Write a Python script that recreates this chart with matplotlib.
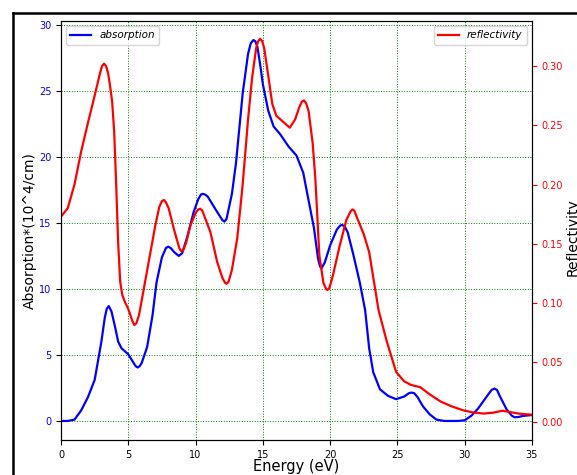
import matplotlib
matplotlib.use("Agg")
import matplotlib.pyplot as plt
from matplotlib.lines import Line2D

# energia (eV) y absorcion (10^4/cm)
energy_abs = [0, 0.5, 1.0, 1.5, 2.0, 2.5, 3.0, 3.25, 3.4, 3.55, 3.75, 4.0, 4.25, 4.5, 5.0,
              5.3, 5.55, 5.7, 5.85, 6.0, 6.4, 6.8, 7.1, 7.5, 7.8, 7.97, 8.15, 8.4, 8.75,
              9.0, 9.4, 9.85, 10.2, 10.4, 10.55, 10.7, 10.9, 11.5, 12.0, 12.15, 12.3, 12.7,
              13.0, 13.5, 13.9, 14.1, 14.3, 14.45, 14.6, 14.8, 15.0, 15.4, 15.8, 16.3,
              16.9, 17.5, 18.0, 18.4, 18.8, 19.1, 19.25, 19.35, 19.6, 20.0, 20.5, 20.75,
              20.9, 21.1, 21.3, 21.7, 22.2, 22.6, 22.9, 23.2, 23.7, 24.3, 24.9, 25.5,
              25.85, 26.05, 26.25, 26.5, 26.9, 27.4, 27.9, 28.5, 29.5, 30.0, 30.5, 31.0,
              31.6, 32.0, 32.2, 32.4, 32.6, 33.1, 33.5, 33.7, 34.0, 34.3, 35.0]
absorption = [0, 0, 0.1, 0.8, 1.8, 3.1, 6.0, 7.8, 8.5, 8.7, 8.3, 7.2, 6.0, 5.5, 5.05,
              4.55, 4.15, 4.05, 4.15, 4.4, 5.6, 8.0, 10.5, 12.4, 13.1, 13.2, 13.1, 12.8, 12.5,
              12.7, 14.0, 15.8, 16.8, 17.15, 17.2, 17.15, 17.0, 16.0, 15.2, 15.1, 15.3, 17.2,
              19.5, 24.8, 27.8, 28.6, 28.85, 28.75, 28.3, 27.0, 25.5, 23.5, 22.3, 21.7,
              20.8, 20.1, 18.8, 16.7, 14.6, 12.3, 11.7, 11.55, 12.0, 13.3, 14.5, 14.8,
              14.85, 14.7, 14.3, 12.7, 10.5, 8.4, 5.5, 3.7, 2.4, 1.9, 1.65, 1.85,
              2.1, 2.15, 2.1, 1.8, 1.1, 0.5, 0.1, 0.0, 0.0, 0.05, 0.4, 0.95,
              1.8, 2.35, 2.45, 2.35, 1.9, 0.9, 0.4, 0.28, 0.3, 0.38, 0.45]

# energia (eV) y reflectividad
energy_ref = [0, 0.5, 1.0, 1.5, 2.0, 2.5, 2.9, 3.05, 3.2, 3.35, 3.5, 3.65, 3.8, 3.95,
              4.1, 4.25, 4.4, 4.55, 4.75, 5.0, 5.3, 5.45, 5.6, 5.8, 6.2, 6.6, 7.0, 7.3,
              7.5, 7.65, 7.8, 8.0, 8.4, 8.8, 8.95, 9.1, 9.3, 9.6, 10.0, 10.2, 10.35, 10.5,
              10.7, 11.1, 11.6, 12.0, 12.2, 12.3, 12.45, 12.7, 13.1, 13.5, 13.9, 14.2,
              14.5, 14.65, 14.8, 14.95, 15.1, 15.4, 15.7, 16.0, 16.5, 17.0, 17.4, 17.7,
              17.9, 18.05, 18.2, 18.4, 18.7, 18.9, 19.2, 19.5, 19.7, 19.8, 19.95, 20.2,
              20.7, 21.2, 21.5, 21.65, 21.8, 22.0, 22.5, 22.9, 23.3, 23.6, 24.2, 24.9,
              25.5, 26.0, 26.7, 27.4, 28.2, 29.0, 29.9, 30.6, 31.4, 32.1, 32.8, 33.4,
              34.0, 35.0]
reflectivity = [0.173, 0.180, 0.200, 0.228, 0.252, 0.275, 0.294, 0.300, 0.302, 0.300,
                0.294, 0.283, 0.270, 0.245, 0.200, 0.150, 0.118, 0.107, 0.101, 0.095,
                0.085, 0.0815, 0.083, 0.090, 0.115, 0.140, 0.165, 0.181, 0.186, 0.187,
                0.185, 0.180, 0.162, 0.146, 0.1436, 0.145, 0.151, 0.165, 0.176, 0.179,
                0.1796, 0.178, 0.172, 0.160, 0.135, 0.121, 0.117, 0.1163, 0.118, 0.128,
                0.155, 0.200, 0.255, 0.290, 0.315, 0.321, 0.323, 0.321, 0.315, 0.292,
                0.268, 0.258, 0.253, 0.248, 0.255, 0.265, 0.270, 0.271, 0.269, 0.262,
                0.235, 0.205, 0.140, 0.117, 0.112, 0.111, 0.113, 0.123, 0.148, 0.170,
                0.177, 0.179, 0.178, 0.172, 0.158, 0.143, 0.115, 0.094, 0.068, 0.042,
                0.034, 0.031, 0.029, 0.023, 0.017, 0.013, 0.0095, 0.0078, 0.0068,
                0.0075, 0.0092, 0.0080, 0.0068, 0.0058]

fig = plt.figure(figsize=(5.77, 4.75), dpi=100)
ax1 = fig.add_axes([61/577, 35/475, 471/577, 419/475])

# marco negro de la captura original
fig.add_artist(Line2D([13/577, 13/577], [0, 1 - 13/475], color='black', lw=1.8,
                      transform=fig.transFigure))
fig.add_artist(Line2D([13/577, 1], [1 - 13/475, 1 - 13/475], color='black', lw=1.8,
                      transform=fig.transFigure))

ax1.plot(energy_abs, absorption, color='blue', lw=1.6, label='absorption')
ax1.set_xlim(0, 35)
ax1.set_xlabel('Energy (eV)', fontsize=10.5)
ax1.xaxis.set_label_coords(0.5, -0.046)
ax1.set_ylabel('Absorption*(10^4/cm)', fontsize=10)
ax1.yaxis.set_label_coords(-0.052, 0.5)
ax1.tick_params(axis='y', labelcolor='blue', labelsize=7)
ax1.tick_params(axis='x', labelsize=7)
ax1.grid(True, color='green', linestyle=':', lw=0.7)
leg1 = ax1.legend(loc='upper left', prop={'style': 'italic', 'size': 7.5})

ax2 = ax1.twinx()
ax2.plot(energy_ref, reflectivity, color='red', lw=1.6, label='reflectivity')
ax2.set_ylim(-0.0155, 0.338)
ax2.tick_params(axis='y', colors='red', labelsize=7)
ax2.spines['right'].set_color('black')
leg2 = ax2.legend(loc='upper right', prop={'style': 'italic', 'size': 7.5})
fig.text(566/577, 0.5, 'Reflectivity', rotation=90, ha='left', va='center',
         fontsize=10)

fig.savefig('out.png', dpi=100)
